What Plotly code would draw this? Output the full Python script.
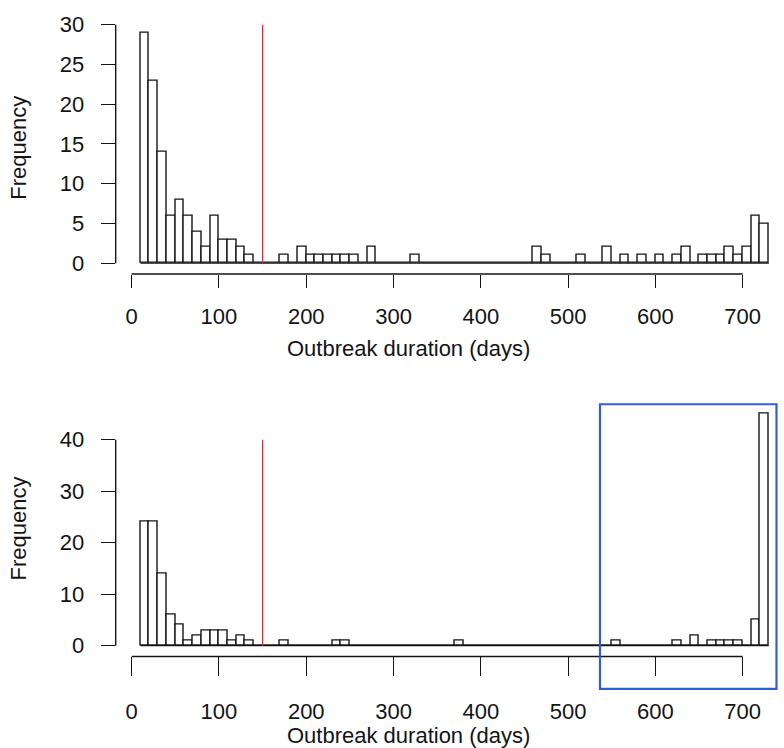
import plotly.graph_objects as go

W, H = 784, 748

# ---- data (bins of 10 days, left edges 10..720) ----
bin_left = list(range(10, 730, 10))
top_counts = [29, 23, 14, 6, 8, 6, 4, 2, 6, 3,
              3, 2, 1, 0, 0, 0, 1, 0, 2, 1,
              1, 1, 1, 1, 1, 0, 2, 0, 0, 0,
              0, 1, 0, 0, 0, 0, 0, 0, 0, 0,
              0, 0, 0, 0, 0, 2, 1, 0, 0, 0,
              1, 0, 0, 2, 0, 1, 0, 1, 0, 1,
              0, 1, 2, 0, 1, 1, 1, 2, 1, 2,
              6, 5]
bottom_counts = [24, 24, 14, 6, 4, 1, 2, 3, 3, 3,
                 1, 2, 1, 0, 0, 0, 1, 0, 0, 0,
                 0, 0, 1, 1, 0, 0, 0, 0, 0, 0,
                 0, 0, 0, 0, 0, 0, 1, 0, 0, 0,
                 0, 0, 0, 0, 0, 0, 0, 0, 0, 0,
                 0, 0, 0, 0, 1, 0, 0, 0, 0, 0,
                 0, 1, 0, 2, 0, 1, 1, 1, 1, 0,
                 5, 45]
bin_width = 10
threshold = 150
x_ticks = [0, 100, 200, 300, 400, 500, 600, 700]
top_y_ticks = [0, 5, 10, 15, 20, 25, 30]
bottom_y_ticks = [0, 10, 20, 30, 40]
x_title = "Outbreak duration (days)"
y_title = "Frequency"

FONT = "Liberation Sans, Arial, sans-serif"
INK = "#141414"
FS = 22

centers = [b + bin_width / 2 for b in bin_left]

def py(p):  # pixel y (from top) -> paper fraction
    return 1 - p / H

def px(p):
    return p / W

fig = go.Figure()
bar_style = dict(color="white", line=dict(color=INK, width=1.4))
fig.add_trace(go.Bar(x=centers, y=top_counts, width=bin_width, marker=bar_style,
                     xaxis="x", yaxis="y", showlegend=False, hoverinfo="x+y"))
fig.add_trace(go.Bar(x=centers, y=bottom_counts, width=bin_width, marker=bar_style,
                     xaxis="x2", yaxis="y2", showlegend=False, hoverinfo="x+y"))

# x mapping: value 0 -> 131.7px, 700 -> 741px
x_dom = [px(115.7), 1.0]
x_rng = [-18.33, 747.4]

common_x = dict(range=x_rng, domain=x_dom, showgrid=False, zeroline=False, showline=False,
                tickvals=x_ticks, ticks="outside", tickcolor=INK, tickwidth=1.4,
                tickfont=dict(family=FONT, size=FS, color=INK))
common_y = dict(showgrid=False, zeroline=False, showline=False, ticks="outside",
                tickcolor=INK, tickwidth=1.4, ticklen=14, ticklabelstandoff=12,
                tickfont=dict(family=FONT, size=FS, color=INK))

fig.update_layout(
    width=W, height=H, margin=dict(l=0, r=0, t=0, b=0),
    paper_bgcolor="white", plot_bgcolor="white", bargap=0,
    xaxis=dict(common_x, anchor="y", ticklen=13, ticklabelstandoff=10),
    xaxis2=dict(common_x, anchor="y2", ticklen=19, ticklabelstandoff=16),
    yaxis=dict(common_y, anchor="x", range=[-1.362, 30.25], tickvals=top_y_ticks,
               domain=[py(268.3), py(13)]),
    yaxis2=dict(common_y, anchor="x2", range=[-2.10, 47.0], tickvals=bottom_y_ticks,
                domain=[py(657), py(400)]),
)

shapes = []
for xr, yr, ymax in (("x", "y", top_y_ticks[-1]), ("x2", "y2", bottom_y_ticks[-1])):
    xd = xr + " domain"
    yd = yr + " domain"
    shapes.append(dict(type="line", xref=xr, yref=yd, x0=x_ticks[0], x1=x_ticks[-1], y0=0, y1=0,
                       line=dict(color=INK, width=1.4)))
    shapes.append(dict(type="line", xref=xd, yref=yr, x0=0, x1=0, y0=0, y1=ymax,
                       line=dict(color=INK, width=1.4)))
    shapes.append(dict(type="line", xref=xr, yref=yr, x0=bin_left[0], x1=bin_left[-1] + bin_width,
                       y0=0, y1=0, line=dict(color=INK, width=1.4)))
    shapes.append(dict(type="line", xref=xr, yref=yr, x0=threshold, x1=threshold, y0=0, y1=ymax,
                       line=dict(color="#e3262a", width=1.3)))

shapes.append(dict(type="rect", xref="paper", yref="paper",
                   x0=px(600), x1=px(776.5), y0=py(690), y1=py(400.7),
                   line=dict(color="#2f5fd8", width=2.2), fillcolor="rgba(0,0,0,0)"))
fig.update_layout(shapes=shapes)

ann = []
for yc in (344, 737):
    ann.append(dict(text=x_title, xref="paper", yref="paper", x=px(409), y=py(yc),
                    showarrow=False, xanchor="center", yanchor="middle",
                    font=dict(family=FONT, size=FS, color=INK)))
for yc in (140, 527):
    ann.append(dict(text=y_title, xref="paper", yref="paper", x=px(19), y=py(yc),
                    showarrow=False, xanchor="center", yanchor="middle", textangle=-90,
                    font=dict(family=FONT, size=FS, color=INK)))
fig.update_layout(annotations=ann)

fig.write_html("out.html", config={"displayModeBar": False},
               post_script="document.body.style.margin='0';document.body.style.padding='0';")
